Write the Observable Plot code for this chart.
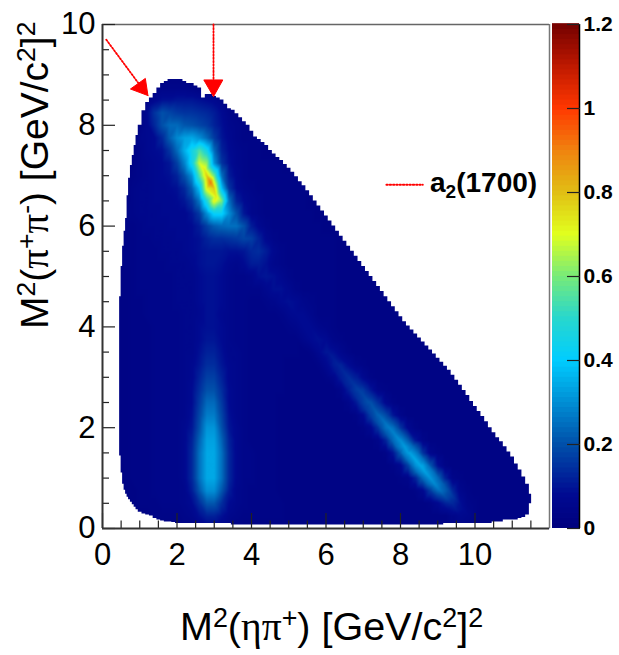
<!DOCTYPE html>
<html><head><meta charset="utf-8">
<script src="https://cdn.jsdelivr.net/npm/d3@7"></script>
<script src="https://cdn.jsdelivr.net/npm/@observablehq/plot@0.6"></script>
<style>
html,body{margin:0;padding:0;background:#fff}
#wrap{position:relative;width:619px;height:655px;overflow:hidden;font-family:"Liberation Sans",Arial,sans-serif;color:#000}
#wrap svg{position:absolute;left:0;top:0;background:transparent}
.t{position:absolute;white-space:nowrap;line-height:1}
.g{font-family:"Liberation Serif",serif}
sup,sub{font-size:.68em;line-height:0}
sup{vertical-align:.5em}
sub{vertical-align:-.3em}
</style></head><body><div id="wrap"></div>
<script>
// Estimated density in units of 0.01; one row for every 0.25 of y, columns every 0.2 of x from 0.4
const yStart = 0, yStep = 0.25, xStart = 0.4, xStep = 0.2;
const densityRows = [
/*0.00*/[2,2,2,3,3,3,3,3,3,4, 4,5,6,6,5,4,3,3,3,3, 3,3,3,3,3,3,3,3,3,3, 3,3,3,3,3,3,3,3,3,3, 3,3,3,3,3,4,4,4,3,3, 3,3,3,3,3,3,3],
/*0.25*/[2,2,3,3,3,4,4,4,4,5, 6,9,12,12,9,6,5,4,4,4, 4,4,4,3,3,3,3,3,3,3, 3,3,3,3,3,3,3,3,3,3, 3,3,3,3,3,5,7,6,4,3, 3,3,3,3,3,3,3],
/*0.50*/[2,3,3,4,4,4,5,5,5,6, 8,14,21,21,14,8,6,5,4,4, 4,4,4,3,3,3,3,3,3,3, 3,3,3,3,3,3,3,3,3,3, 3,3,4,7,12,13,9,5,4,3, 3,3,3,3,3,3,3],
/*0.75*/[2,3,3,4,4,5,5,5,5,6, 11,21,30,30,21,11,6,5,4,4, 4,4,3,3,3,3,3,3,3,3, 3,3,3,3,3,3,3,3,3,3, 4,7,16,24,22,13,6,4,3,3, 3,3,3,3,3,3,3],
/*1.00*/[2,3,4,4,4,5,5,5,5,7, 13,25,34,34,25,13,7,5,5,4, 4,4,3,3,3,3,3,3,3,3, 3,3,3,3,3,3,3,3,4,5, 12,24,31,24,12,5,4,3,3,3, 3,3,3,3,3,3,2],
/*1.25*/[2,3,4,4,4,5,5,5,5,7, 13,25,34,34,25,13,7,5,5,4, 4,4,3,3,3,3,3,3,3,3, 3,3,3,3,3,3,3,4,7,17, 30,33,21,9,4,3,3,3,3,3, 3,3,3,3,3,3],
/*1.50*/[3,3,4,4,4,5,5,5,5,7, 13,25,34,34,25,13,7,5,5,4, 4,4,3,3,3,3,3,3,3,3, 3,3,3,3,3,3,4,10,22,32, 28,15,6,4,3,3,3,3,3,3, 3,3,3,3],
/*1.75*/[3,3,4,4,4,5,5,5,5,7, 12,23,33,33,23,12,7,5,4,4, 4,4,3,3,3,3,3,3,3,3, 3,3,3,3,3,5,12,24,30,22, 10,5,3,3,3,3,3,3,3,3, 3,3,3,3],
/*2.00*/[3,3,4,4,4,5,5,5,5,7, 10,20,31,31,20,10,7,5,4,4, 4,4,3,3,3,3,3,3,3,3, 3,3,3,4,7,15,25,25,15,7, 4,3,3,3,3,3,3,3,3,3, 3,3],
/*2.25*/[3,3,4,4,4,5,5,5,5,6, 9,18,27,27,18,9,6,5,4,4, 4,4,3,3,3,3,3,3,3,3, 3,3,4,8,17,23,19,10,5,3, 3,3,3,3,3,3,3,3,3,3, 3],
/*2.50*/[3,3,4,4,4,5,5,5,5,6, 8,16,24,24,16,8,6,5,4,4, 4,4,3,3,3,3,3,3,3,3, 3,5,10,17,20,14,7,4,3,3, 3,3,3,3,3,3,3,3,3],
/*2.75*/[3,3,4,4,4,5,5,5,5,6, 8,14,20,20,14,8,6,5,4,4, 4,4,4,3,3,3,3,3,3,3, 5,11,16,16,10,5,4,3,3,3, 3,3,3,3,3,3,3,3],
/*3.00*/[3,3,4,4,4,5,5,5,5,6, 7,12,17,17,12,7,6,5,4,4, 4,4,4,3,3,3,3,3,4,6, 11,14,11,7,4,3,3,3,3,3, 3,3,3,3,3,3,3],
/*3.25*/[3,3,4,4,4,5,5,5,5,6, 7,10,14,14,10,7,6,5,4,4, 4,4,4,3,3,3,3,4,7,11, 12,8,5,4,3,3,3,3,3,3, 3,3,3,3,3],
/*3.50*/[3,3,4,4,4,5,5,5,5,6, 6,9,12,12,9,6,6,5,4,4, 4,4,4,4,4,3,4,7,10,9, 6,4,3,3,3,3,3,3,3,3, 3,3,3,3],
/*3.75*/[3,3,4,4,4,5,5,5,5,6, 6,8,10,10,8,6,5,5,4,4, 4,4,4,4,4,6,8,9,8,5, 4,3,3,3,3,3,3,3,3,3, 3,3,3],
/*4.00*/[3,3,4,4,4,5,5,5,5,6, 6,8,9,9,8,6,5,5,4,4, 4,4,4,5,6,8,8,6,5,4, 3,3,3,3,3,3,3,3,3,3, 3],
/*4.25*/[3,3,4,4,5,5,5,5,5,6, 6,7,9,9,7,6,5,5,4,4, 4,4,5,7,8,8,6,4,4,4, 3,3,3,3,3,3,3,3,3],
/*4.50*/[3,3,4,4,5,5,5,5,6,6, 6,8,9,9,8,6,5,5,4,4, 5,6,8,9,8,6,5,4,4,4, 3,3,3,3,3,3,3,3],
/*4.75*/[3,3,4,5,5,5,5,5,6,6, 6,8,9,9,8,6,5,5,5,5, 7,9,9,7,5,4,4,4,4,4, 3,3,3,3,3,3,3],
/*5.00*/[3,3,4,5,5,5,5,5,6,6, 6,8,9,9,8,6,5,5,6,9, 10,9,7,5,4,4,4,4,4,4, 3,3,3,3,3,3],
/*5.25*/[3,4,4,5,5,5,5,6,6,6, 7,9,10,10,9,7,6,8,11,11, 9,6,5,4,4,4,4,4,4,4, 3,3,3,3,3],
/*5.50*/[3,4,4,5,5,5,6,6,6,7, 8,9,10,10,10,9,9,10,13,14, 11,7,5,4,4,4,4,4,4,4, 3,3,3,3],
/*5.75*/[3,4,4,5,5,6,6,6,7,7, 8,9,12,14,14,15,16,18,17,12, 7,5,4,4,4,4,4,4,4,4, 3,3,3],
/*6.00*/[3,4,4,5,6,6,6,7,7,7, 8,11,17,22,24,25,25,20,11,7, 5,4,4,4,4,4,4,4,3,3, 3],
/*6.25*/[2,4,5,6,6,6,7,7,7,7, 10,16,30,42,42,30,20,10,6,5, 4,4,4,4,4,4,4,3,3],
/*6.50*/[2,3,5,6,6,7,7,7,8,10, 15,26,48,72,60,25,12,8,6,5, 4,4,4,4,4,4,3,3],
/*6.75*/[2,3,5,6,6,7,7,8,9,13, 22,38,72,78,38,15,8,6,5,4, 4,4,4,4,4,4,3],
/*7.00*/[2,2,4,5,6,7,8,9,12,20, 30,55,78,58,25,11,7,5,4,4, 4,4,4,4,4,3],
/*7.25*/[2,2,3,5,6,7,8,10,17,28, 44,68,62,30,15,9,6,5,4,4, 4,4,4,3],
/*7.50*/[2,2,3,5,7,8,9,15,24,35, 45,55,45,24,12,8,6,5,4,4, 3,3,3],
/*7.75*/[2,2,3,6,7,8,13,22,29,33, 34,30,24,16,10,7,5,4,4,4, 3],
/*8.00*/[2,2,2,4,7,13,20,24,24,21, 20,18,16,12,9,6,5,4,3,3],
/*8.25*/[2,2,2,3,8,15,20,18,16,15, 15,14,13,11,8,5,4,3],
/*8.50*/[2,2,2,2,4,7,9,9,10,10, 10,9,8,7,5,4,3],
/*8.75*/[2,2,2,2,2,3,5,5,5,5, 4,3,3,3,3,3],
/*9.00*/[2,2,2,2,2,3,3,3,3,3, 2,2,2]
];
// Extra readings at the hot spot
const peakX = [2.9, 2.75, 3.05];
const peakY = [6.87, 7.1, 6.6];
const peakV = [92, 74, 74];
// Extra readings along the ridge of the long diagonal band, with its shoulders either side
const ridgeX = [9.62,9.48,9.34,9.2,9.07,8.93,8.8,8.66,8.53,8.39,8.25,8.11,7.98,7.84,7.7,7.56,7.43,7.29,7.15,7.02,6.88,6.74,6.61,6.47,6.33,6.2,6.06];
const ridgeY = [.25,.375,.5,.625,.75,.875,1,1.125,1.25,1.375,1.5,1.625,1.75,1.875,2,2.125,2.25,2.375,2.5,2.625,2.75,2.875,3,3.125,3.25,3.375,3.5];
const ridgeV = [7,10,13,19,25,29,31,33,34,34,33,32,30,28,27,25,23,21,20,18,17,15,14,13,12,11,10];
const shoulderV = [6,8,10,15,19,22,23,25,25,25,25,24,22,21,20,19,17,16,15,14,13,12,11,10,9,8,8];
const shoulderOffset = 0.22;

// Edge of the populated region: fine readings on the left side, then every 0.1 of x from 1.06
const edgeLeftX = [.46,.5,.54,.58,.62,.66,.7,.75,.8,.85,.9,.96];
const edgeLeftTop = [4.6,5.2,5.6,5.9,6.15,6.6,6.95,7.2,7.4,7.6,7.8,8.0];
const edgeLeftBottom = [1.44,1.1,.88,.76,.68,.62,.57,.52,.47,.42,.37,.32];
const edgeTop = [
8.29,8.45,8.54,8.63,
8.74,8.83,8.87,8.91,8.91,8.91,8.91,8.87,8.83,8.83,
8.78,8.74,8.54,8.61,8.61,8.57,8.54,8.5,8.42,8.33,
8.3,8.23,8.15,8.07,8.0,7.88,7.77,7.72,7.66,7.6,
7.5,7.43,7.36,7.3,7.22,7.15,7.07,6.98,6.88,6.8,
6.7,6.6,6.5,6.4,6.3,6.2,6.1,6.0,5.9,5.8,
5.7,5.6,5.5,5.4,5.3,5.2,5.1,5.0,4.9,4.8,
4.7,4.6,4.5,4.4,4.3,4.2,4.1,4.02,3.94,3.86,
3.78,3.7,3.62,3.54,3.46,3.38,3.3,3.22,3.14,3.04,
2.94,2.84,2.74,2.64,2.52,2.42,2.32,2.22,2.12,2.0,
1.9,1.8,1.72,1.62,1.52,1.42,1.28,1.16,1.02,.88,
.68];
const edgeBottom = [
.29,.27,.25,.2,
.17,.15,.13,.13,.12,.1,.1,.1,.1,.1,
.1,.1,.1,.1,.1,.1,.1,.1,.1,.1,
.07,.07,.07,.07,.07,.07,.07,.07,.07,.07,
.07,.07,.07,.07,.07,.07,.07,.07,.07,.07,
.07,.07,.07,.07,.07,.07,.07,.07,.07,.07,
.07,.07,.07,.07,.07,.07,.07,.07,.07,.07,
.07,.07,.07,.07,.07,.07,.07,.07,.07,.07,
.07,.07,.07,.07,.07,.07,.07,.1,.1,.1,
.1,.1,.1,.1,.1,.1,.1,.1,.1,.1,
.13,.13,.13,.17,.17,.17,.17,.2,.22,.27,
.49];

// Annotations
const arrowA = {x:[0.1,1.05], y:[9.7,8.75]};
const headA  = {x:[1.22,1.15,0.75,1.22], y:[8.59,8.93,8.72,8.59]};
const arrowB = {x:[2.98,2.98], y:[10,8.85]};
const headB  = {x:[2.98,2.72,3.23,2.98], y:[8.57,8.9,8.9,8.57]};
const legendLine = {x:[7.62,8.6], y:[6.82,6.82]};

// Axes
const xMajor = [0,2,4,6,8,10];
const xMinor = [0.5,1,1.5,2.5,3,3.5,4.5,5,5.5,6.5,7,7.5,8.5,9,9.5,10.5,11,11.5];
const yMajor = [0,2,4,6,8,10];
const yMinor = [0.5,1,1.5,2.5,3,3.5,4.5,5,5.5,6.5,7,7.5,8.5,9,9.5];
const zTicks = [0,0.2,0.4,0.6,0.8,1,1.2];
const paletteStops = [0,0.08,0.2,0.4,0.5,0.6,0.7,0.8,0.9,1.0,1.1,1.2];
const paletteColors = ["rgb(0,0,125)","rgb(0,10,145)","rgb(0,80,170)","rgb(0,205,255)","rgb(40,215,205)","rgb(120,235,120)","rgb(225,255,30)","rgb(225,190,20)","rgb(240,130,15)","rgb(255,55,0)","rgb(190,25,0)","rgb(115,0,0)"];

const points = [];
densityRows.forEach((row, j) => row.forEach((v, i) =>
  points.push({x: xStart + i * xStep, y: yStart + j * yStep, v: v / 100})));
peakX.forEach((x, i) => points.push({x, y: peakY[i], v: peakV[i] / 100}));
ridgeX.forEach((x, i) => {
  points.push({x, y: ridgeY[i], v: ridgeV[i] / 100});
  points.push({x: x - shoulderOffset, y: ridgeY[i], v: shoulderV[i] / 100});
  points.push({x: x + shoulderOffset, y: ridgeY[i], v: shoulderV[i] / 100});
});

const allTop = [...edgeLeftTop, ...edgeTop];
const allBottom = [...edgeLeftBottom, ...edgeBottom];
const edgeX = [0, ...edgeLeftX, ...edgeTop.map((_, i) => 1.06 + i * 0.1), 11.52, 12];
const edge = edgeX.map((x, i) => ({
  x,
  top: i === 0 || i > allTop.length ? 0 : allTop[i - 1],
  bottom: i === 0 ? allBottom[0] : i > allTop.length ? allBottom[allBottom.length - 1] : allBottom[i - 1]
}));
const zip = s => s.x.map((x, i) => ({x, y: s.y[i]}));

const tickStroke = "#222";
const dotted = {stroke: "red", strokeWidth: 1.8, strokeDasharray: "1.5 1.8"};
const main = Plot.plot({
  width: 619, height: 655,
  marginLeft: 102, marginRight: 70, marginTop: 24, marginBottom: 127,
  style: {fontFamily: '"Liberation Sans",Arial,sans-serif', background: "transparent"},
  x: {domain: [0, 12]},
  y: {domain: [0, 10]},
  color: {type: "linear", domain: paletteStops, range: paletteColors, clamp: true},
  marks: [
    Plot.raster(points, {x: "x", y: "y", fill: "v", interpolate: "barycentric", pixelSize: 1}),
    Plot.areaY(edge, {x: "x", y1: "top", y2: 10, fill: "white", curve: "step-after"}),
    Plot.areaY(edge, {x: "x", y1: 0, y2: "bottom", fill: "white", curve: "step-after"}),
    Plot.ruleX([12], {stroke: "#777", strokeWidth: 1.5}),
    Plot.ruleY([10], {stroke: "#666", strokeWidth: 1.5}),
    Plot.axisX({ticks: xMinor, tickSize: -7.5, tickFormat: () => "", label: null, stroke: tickStroke, strokeWidth: 1.2}),
    Plot.axisY({ticks: yMinor, tickSize: -7, tickFormat: () => "", label: null, stroke: tickStroke, strokeWidth: 1.2}),
    Plot.axisX({ticks: xMajor, tickSize: -15, tickPadding: 29, tickFormat: d => String(d), label: null, fontSize: 31, stroke: tickStroke, strokeWidth: 1.2, fill: "#000"}),
    Plot.axisY({ticks: yMajor, tickSize: -13, tickPadding: 20, tickFormat: d => String(d), label: null, fontSize: 31, stroke: tickStroke, strokeWidth: 1.2, fill: "#000"}),
    Plot.ruleX([0], {stroke: "#333", strokeWidth: 2}),
    Plot.ruleY([0], {stroke: "#333", strokeWidth: 2}),
    Plot.line(zip(arrowA), {x: "x", y: "y", ...dotted}),
    Plot.line(zip(headA), {x: "x", y: "y", stroke: "red", strokeWidth: 1, fill: "red"}),
    Plot.line(zip(arrowB), {x: "x", y: "y", ...dotted}),
    Plot.line(zip(headB), {x: "x", y: "y", stroke: "red", strokeWidth: 1, fill: "red"}),
    Plot.line(zip(legendLine), {x: "x", y: "y", ...dotted})
  ]
});

const bandStep = 0.012;
const bands = d3.range(100).map(i => ({lo: i * bandStep, hi: (i + 1) * bandStep + 0.002, v: (i + 0.5) * bandStep}));
const bar = Plot.plot({
  width: 619, height: 655,
  marginLeft: 552, marginRight: 40, marginTop: 24, marginBottom: 127,
  style: {fontFamily: '"Liberation Sans",Arial,sans-serif', background: "transparent"},
  x: {domain: [0, 1], axis: null},
  y: {domain: [0, 1.2]},
  color: {type: "linear", domain: paletteStops, range: paletteColors, clamp: true},
  marks: [
    Plot.rect(bands, {x1: 0, x2: 1, y1: "lo", y2: "hi", fill: "v"}),
    Plot.ruleX([1], {stroke: "#000", strokeWidth: 1.5}),
    Plot.axisY({anchor: "right", ticks: zTicks, tickSize: -13, tickPadding: 17, tickFormat: d => String(d), label: null, fontSize: 21, fontWeight: "bold", stroke: "#222", strokeWidth: 1.2, fill: "#000"})
  ]
});

const wrap = document.getElementById("wrap");
wrap.append(main, bar);
function addText(html, css) {
  const d = document.createElement("div");
  d.className = "t"; d.innerHTML = html; d.style.cssText = css;
  wrap.appendChild(d);
}
addText('M<sup>2</sup>(<span class="g">ηπ</span><sup>+</sup>) [GeV/c<sup>2</sup>]<sup>2</sup>',
  'left:180px;top:607px;font-size:39.5px;');
addText('M<sup>2</sup>(<span class="g">π</span><sup>+</sup><span class="g">π</span><sup>-</sup>) [GeV/c<sup>2</sup>]<sup>2</sup>',
  'left:15px;top:329px;font-size:39px;transform-origin:0 0;transform:rotate(-90deg);');
addText('a<sub>2</sub>(1700)',
  'left:430px;top:169px;font-size:28px;font-weight:bold;');
</script></body></html>
